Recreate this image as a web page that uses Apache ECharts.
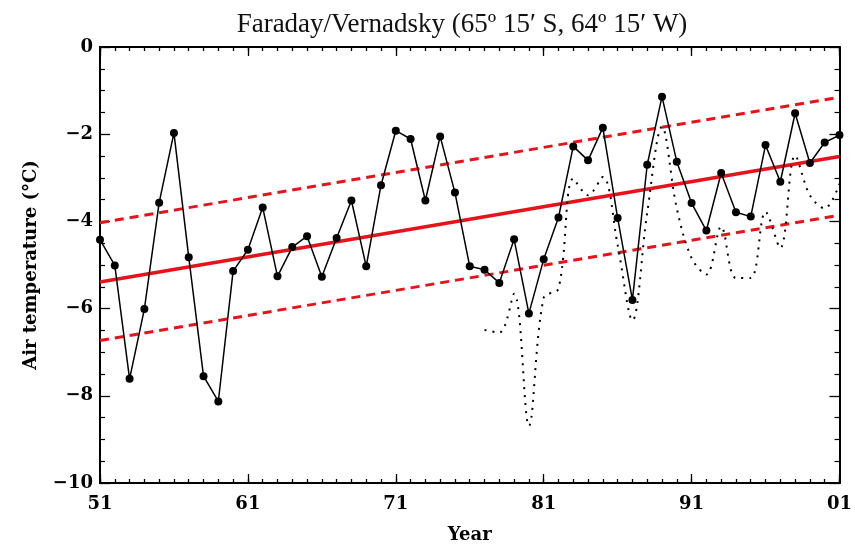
<!DOCTYPE html>
<html>
<head>
<meta charset="utf-8">
<script src="https://cdn.jsdelivr.net/npm/echarts@6/dist/echarts.min.js"></script>
<style>
html,body{margin:0;padding:0;background:#fff;}
#chart{width:855px;height:549px;}
</style>
</head>
<body>
<div id="chart"></div>
<script>
// ---- data ----
const years = [1951,1952,1953,1954,1955,1956,1957,1958,1959,1960,
  1961,1962,1963,1964,1965,1966,1967,1968,1969,1970,
  1971,1972,1973,1974,1975,1976,1977,1978,1979,1980,
  1981,1982,1983,1984,1985,1986,1987,1988,1989,1990,
  1991,1992,1993,1994,1995,1996,1997,1998,1999,2000,2001];
const annualTemp = [-4.42,-5.01,-7.61,-6.01,-3.57,-1.97,-4.82,-7.55,-8.13,-5.14,
  -4.65,-3.68,-5.26,-4.59,-4.34,-5.27,-4.38,-3.52,-5.03,-3.17,
  -1.92,-2.11,-3.52,-2.05,-3.34,-5.03,-5.11,-5.41,-4.41,-6.11,
  -4.87,-3.91,-2.28,-2.60,-1.85,-3.92,-5.80,-2.70,-1.14,-2.63,
  -3.58,-4.21,-2.89,-3.79,-3.89,-2.25,-3.09,-1.52,-2.66,-2.19,-2.02];
const dottedYears = [1977,1978,1979,1980,1981,1982,1983,1984,1985,1986,
  1987,1988,1989,1990,1991,1992,1993,1994,1995,1996,1997,1998,1999,2000,2001];
const dottedTemp = [-6.49,-6.55,-5.66,-8.69,-5.75,-5.54,-3.02,-3.40,-2.98,-4.54,
  -6.27,-3.80,-1.83,-3.70,-4.84,-5.22,-4.12,-5.30,-5.30,-3.78,-4.61,-2.49,-3.40,-3.70,-3.14];
const trendYears = [1951, 2001];
const trendMid = [-5.39, -2.51];
const trendUpper = [-4.03, -1.15];
const trendLower = [-6.73, -3.86];
const xTickYears = [1951,1961,1971,1981,1991,2001];
const xTickLabels = ['51','61','71','81','91','01'];

const titleText = 'Faraday/Vernadsky (65º 15′ S, 64º 15′ W)';
const xName = 'Year';
const yName = 'Air temperature (°C)';

// ---- chart ----
const pair = (xs, ys) => xs.map((x, i) => [x, ys[i]]);
const labelFont = {fontFamily:'DejaVu Serif', fontWeight:'bold', fontSize:18, color:'#000'};
const black = '#000';
const red = '#e8121a';

function xAxisDef(pos, major, withLabels) {
  return {
    type:'value', min:1951, max:2001, position:pos,
    axisLine:{show:true, onZero:false, lineStyle:{color:black, width:2}},
    axisTick:{show:true, inside:true, length: major ? 9 : 4,
      customValues: major ? xTickYears : years,
      lineStyle:{color:black, width:1.3}},
    axisLabel: withLabels ? Object.assign({show:true, margin:12,
      customValues: xTickYears,
      formatter: v => xTickLabels[xTickYears.indexOf(v)]}, labelFont) : {show:false},
    splitLine:{show:false},
    name: withLabels ? xName : '',
    nameLocation:'middle', nameGap:43,
    nameTextStyle: labelFont
  };
}
function yAxisDef(pos, withLabels) {
  return {
    type:'value', min:-10, max:0, interval:2, position:pos,
    axisLine:{show:true, onZero:false, lineStyle:{color:black, width:2}},
    axisTick:{show:true, inside:true, length:10, lineStyle:{color:black, width:1.3}},
    minorTick:{show:true, splitNumber:4, length:5, lineStyle:{color:black, width:1.2}},
    axisLabel: withLabels ? Object.assign({show:true, margin:7,
      formatter: v => String(v).replace('-', '−')}, labelFont) : {show:false},
    splitLine:{show:false},
    name: withLabels ? yName : '',
    nameLocation:'middle', nameGap:60, nameRotate:90,
    nameTextStyle: labelFont
  };
}

const chart = echarts.init(document.getElementById('chart'), null, {renderer:'canvas'});
chart.setOption({
  backgroundColor:'#fff',
  animation:false,
  grid:{left:100, right:13.4, top:47, bottom:62, containLabel:false},
  graphic:[{type:'text', x:462, y:25,
    style:{text:titleText, fill:'#111', font:'27px "Liberation Serif"', textAlign:'center', textVerticalAlign:'middle'}}],
  xAxis:[xAxisDef('bottom', true, true), xAxisDef('bottom', false, false),
         xAxisDef('top', true, false), xAxisDef('top', false, false)],
  yAxis:[yAxisDef('left', true), yAxisDef('right', false)],
  series:[
    {type:'line', data: pair(trendYears, trendUpper), symbol:'none',
      lineStyle:{color:red, width:3, type:[9,6]}, z:2},
    {type:'line', data: pair(trendYears, trendLower), symbol:'none',
      lineStyle:{color:red, width:3, type:[9,6]}, z:2},
    {type:'line', data: pair(trendYears, trendMid), symbol:'none',
      lineStyle:{color:red, width:3.5}, z:2},
    {type:'line', data: pair(dottedYears, dottedTemp), symbol:'none', smooth:0.35,
      lineStyle:{color:black, width:2, type:[2,6]}, z:3},
    {type:'line', data: pair(years, annualTemp), symbol:'circle', symbolSize:8,
      itemStyle:{color:black}, lineStyle:{color:black, width:1.5}, z:4}
  ]
});
</script>
</body>
</html>
